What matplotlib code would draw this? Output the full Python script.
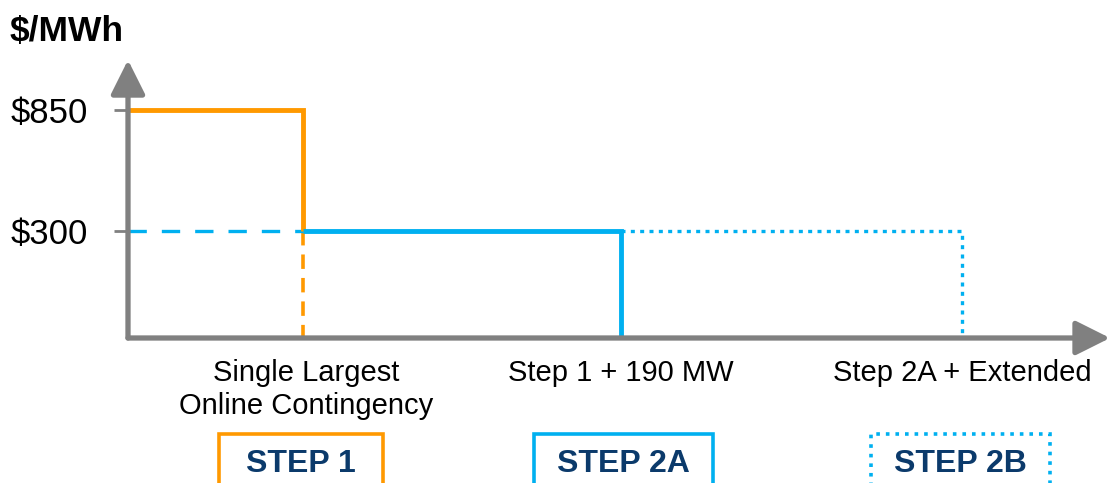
import matplotlib.pyplot as plt
from matplotlib.patches import Rectangle

plt.rcParams['font.family'] = ['Liberation Sans', 'DejaVu Sans']

# Data (schematic step chart)
step_labels = ["Single Largest\nOnline Contingency", "Step 1 + 190 MW", "Step 2A + Extended"]
step_names = ["STEP 1", "STEP 2A", "STEP 2B"]
step_x = [175, 493, 834]
prices = [850, 300]
price_labels = ["$850", "$300"]

orange = "#FF9900"
blue = "#00B0F0"
gray = "#808080"
navy = "#0B3A6B"

W, H = 1115, 483
fig = plt.figure(figsize=(W / 100, H / 100), dpi=100)
ax = fig.add_axes([128 / W, (H - 338) / H, (1113 - 128) / W, (338 - 60) / H])
ymin, ymax = -186, 1077
ax.set_xlim(0, 985)
ax.set_ylim(ymin, ymax)
for s in ax.spines.values():
    s.set_visible(False)

# step lines
ax.plot([0, step_x[0], step_x[0]], [prices[0], prices[0], prices[1]],
        color=orange, lw=3.5, solid_capstyle='butt', solid_joinstyle='miter', zorder=3)
ax.plot([step_x[0], step_x[0]], [prices[1], ymin], color=orange, lw=2.6,
        dashes=(4, 2.5), zorder=2)
ax.plot([0, step_x[0]], [prices[1], prices[1]], color=blue, lw=2.4,
        dashes=(5.5, 4.5), zorder=2)
ax.plot([step_x[0], step_x[1], step_x[1]], [prices[1], prices[1], ymin],
        color=blue, lw=3.5, solid_capstyle='butt', solid_joinstyle='miter', zorder=3)
ax.plot([step_x[1], step_x[2], step_x[2]], [prices[1], prices[1], ymin],
        color=blue, lw=2.4, dashes=(1.2, 1.6), zorder=2)

# axes with arrow heads
arrow = dict(arrowstyle='-|>,head_length=2.1,head_width=1.05', lw=3.8,
             color=gray, shrinkA=0, shrinkB=0)
ax.annotate("", xy=(0, 1.0), xytext=(0, 0), xycoords='axes fraction',
            arrowprops=arrow, annotation_clip=False, zorder=5)
ax.annotate("", xy=(0.997, 0), xytext=(0, 0), xycoords='axes fraction',
            arrowprops=arrow, annotation_clip=False, zorder=5)

ax.set_yticks(prices)
ax.set_yticklabels(price_labels, fontsize=25)
ax.tick_params(axis='y', length=10, width=2, color=gray, pad=19)
ax.set_xticks([])

fig.text(10 / W, 1 - 31 / H, "$/MWh", fontsize=25.5, fontweight='bold',
         ha='left', va='center')

# category labels
label_x = [step_x[0] + 3, step_x[1], step_x[2]]
for x, lab in zip(label_x, step_labels):
    ax.annotate(lab, xy=(x, 0), xycoords=('data', 'axes fraction'),
                xytext=(0, -15), textcoords='offset points',
                ha='center', va='top', fontsize=21, linespacing=1.25,
                annotation_clip=False)

# step boxes
boxes = [(219, 383, orange, '-'), (534, 713, blue, '-'), (871, 1050, blue, ':')]
for (x0, x1, c, ls), name in zip(boxes, step_names):
    r = Rectangle((x0 / W, -0.1), (x1 - x0) / W, 0.1 + (H - 434) / H,
                  transform=fig.transFigure, fill=False, edgecolor=c,
                  lw=2.6, linestyle=ls, clip_on=False)
    fig.add_artist(r)
    fig.text((x0 + x1) / 2 / W, 1 - 472 / H, name, fontsize=23,
             fontweight='bold', color=navy, ha='center', va='baseline')

fig.savefig("out.png", dpi=100)
